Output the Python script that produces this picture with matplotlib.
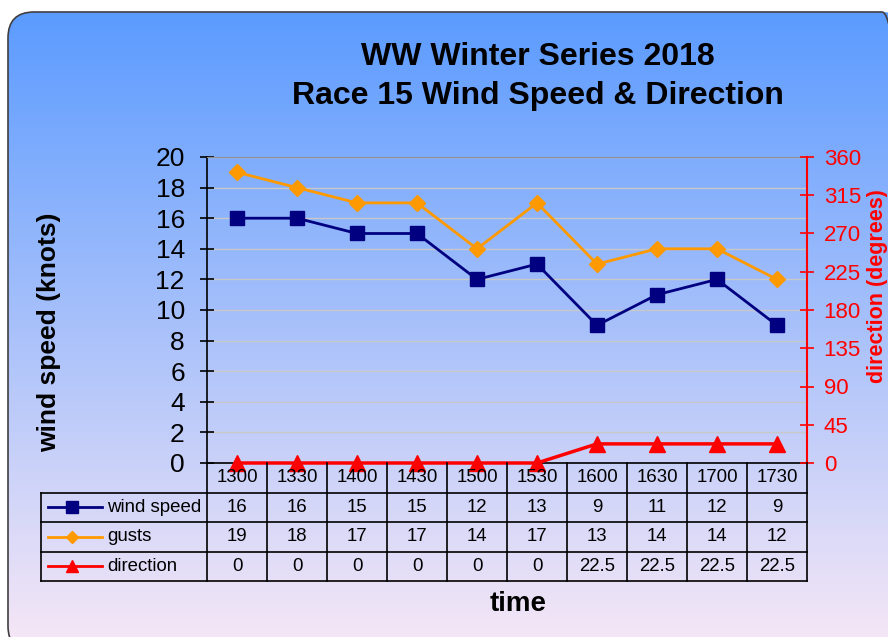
import matplotlib.pyplot as plt
import numpy as np
from matplotlib.patches import FancyBboxPatch
from matplotlib.lines import Line2D

plt.rcParams["font.family"] = ["Liberation Sans", "DejaVu Sans"]

times = ["1300", "1330", "1400", "1430", "1500", "1530", "1600", "1630", "1700", "1730"]
wind_speed = [16, 16, 15, 15, 12, 13, 9, 11, 12, 9]
gusts = [19, 18, 17, 17, 14, 17, 13, 14, 14, 12]
direction = [0, 0, 0, 0, 0, 0, 22.5, 22.5, 22.5, 22.5]

series = [
    ("wind speed", wind_speed, "#000080", "s", 10),
    ("gusts", gusts, "#FF9900", "D", 8),
    ("direction", direction, "#FF0000", "^", 11),
]

W, H = 888, 637
fig = plt.figure(figsize=(W / 100, H / 100), dpi=100)
fig.patch.set_facecolor("white")


def fx(px):
    return px / W


def fy(py):
    return 1 - py / H


# background: rounded frame with vertical gradient (pixel coords, y up)
bg = fig.add_axes([0, 0, 1, 1], zorder=-10)
bg.set_xlim(0, W)
bg.set_ylim(0, H)
bg.axis("off")
top = np.array([91, 155, 255]) / 255
bot = np.array([248, 232, 246]) / 255
t = np.linspace(0, 1, 256)[:, None]
grad = (top[None, :] * (1 - t) + bot[None, :] * t)[:, None, :]
fb, ft = H - 652, H - 12
frame = FancyBboxPatch((8, fb), 900, ft - fb, boxstyle="round,pad=0,rounding_size=26",
                       facecolor="none", edgecolor="#404040", linewidth=1.2)
bg.add_patch(frame)
img = bg.imshow(grad, extent=[8, 908, fb, ft], aspect="auto", interpolation="bilinear")
img.set_clip_path(frame)

# main plot
x0, x1, y0, y1 = 207, 807, 157, 463
ax = fig.add_axes([fx(x0), fy(y1), (x1 - x0) / W, (y1 - y0) / H])
ax.patch.set_alpha(0)
xs = np.arange(len(times))
ax.set_xlim(-0.5, len(times) - 0.5)
ax.set_ylim(0, 20)
ax.set_yticks(range(0, 21, 2))
ax.yaxis.grid(True, color="#C8C8C8", linewidth=1)
ax.set_axisbelow(True)
ax.set_xticks([])
ax.tick_params(axis="y", direction="inout", length=10, width=1.2, labelsize=19, pad=11)
ax.spines["left"].set_linewidth(1.2)
ax.spines["bottom"].set_linewidth(1.2)
ax.spines["top"].set_color("#909090")
ax.spines["right"].set_visible(False)

for name, vals, col, mk, ms in series[:2]:
    ax.plot(xs, vals, color=col, marker=mk, markersize=ms, linewidth=2, clip_on=False, zorder=3)

ax2 = ax.twinx()
ax2.set_ylim(0, 360)
ax2.set_yticks(range(0, 361, 45))
ax2.tick_params(axis="y", direction="inout", length=10, width=1.2, colors="#FF0000",
                labelsize=16, pad=7)
for s in ["left", "top", "bottom"]:
    ax2.spines[s].set_visible(False)
ax2.spines["right"].set_color("#FF0000")
ax2.spines["right"].set_linewidth(1.5)
name, vals, col, mk, ms = series[2]
ax2.plot(xs, vals, color=col, marker=mk, markersize=ms, linewidth=2.5, clip_on=False, zorder=3)

# titles and axis labels
fig.text(fx(538), fy(57), "WW Winter Series 2018", ha="center", va="center",
         fontsize=23, fontweight="bold")
fig.text(fx(538), fy(96), "Race 15 Wind Speed & Direction", ha="center", va="center",
         fontsize=23, fontweight="bold")
fig.text(fx(49), fy(332), "wind speed (knots)", rotation=90, ha="center", va="center",
         fontsize=19, fontweight="bold")
fig.text(fx(877), fy(286), "direction (degrees)", rotation=90, ha="center", va="center",
         fontsize=15.5, fontweight="bold", color="#FF0000")
fig.text(fx(518), fy(604), "time", ha="center", va="center", fontsize=20,
         fontweight="bold")

# data table
tx0, ty1 = 41, 581
tab = fig.add_axes([fx(tx0), fy(ty1), (x1 - tx0) / W, (ty1 - y1) / H])
tab.patch.set_alpha(0)
tab.axis("off")
left = -0.5 - (x0 - tx0) / 60
tab.set_xlim(left, len(times) - 0.5)
tab.set_ylim(4, 0)
lw = 1.2
for i in range(len(times) + 1):
    tab.plot([i - 0.5, i - 0.5], [0, 4], color="black", linewidth=lw, clip_on=False)
tab.plot([left, left], [1, 4], color="black", linewidth=lw, clip_on=False)
for r in [1, 2, 3, 4]:
    tab.plot([left, len(times) - 0.5], [r, r], color="black", linewidth=lw, clip_on=False)
for i, lab in enumerate(times):
    tab.text(i, 0.5, lab, ha="center", va="center", fontsize=13.4)
for r, (name, vals, col, mk, ms) in enumerate(series, start=1):
    tab.add_line(Line2D([left + 0.12, left + 1.02], [r + 0.5, r + 0.5], color=col,
                        linewidth=2))
    tab.plot([left + 0.52], [r + 0.5], marker=mk, color=col, markersize=ms * 0.8)
    tab.text(left + 1.1, r + 0.5, name, ha="left", va="center", fontsize=13.4)
    for i, v in enumerate(vals):
        tab.text(i, r + 0.5, f"{v:g}", ha="center", va="center", fontsize=13.4)

fig.savefig("out.png", dpi=100)
